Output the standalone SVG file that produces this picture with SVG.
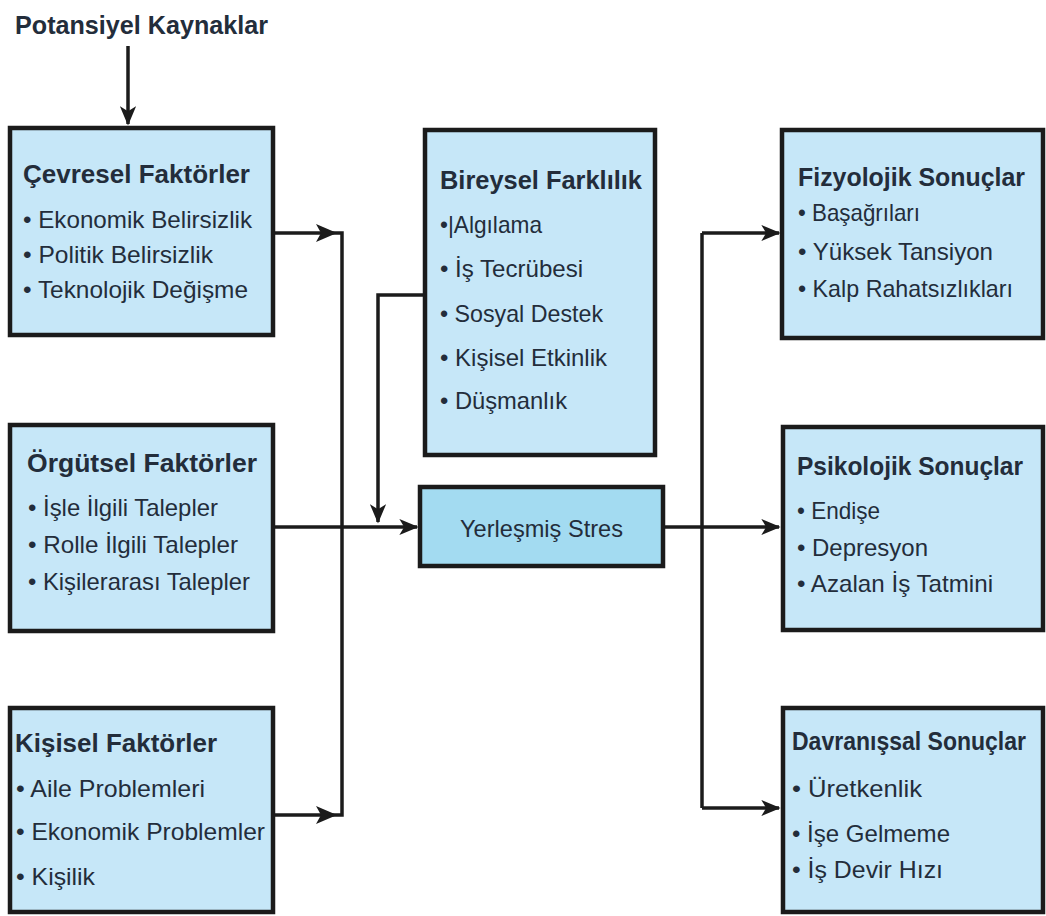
<svg xmlns="http://www.w3.org/2000/svg" width="1046" height="916" viewBox="0 0 1046 916">
  <style>
    .box { fill: #c6e7f8; stroke: #1b1b1b; stroke-width: 4.5; }
    .core { fill: #a3dbf1; stroke: #1b1b1b; stroke-width: 4.5; }
    .ttl { font-family: "Liberation Sans", Arial, sans-serif; font-weight: bold; font-size: 26px; fill: #232d3b; }
    .itm { font-family: "Liberation Sans", Arial, sans-serif; font-size: 24px; fill: #232d3b; }
    .head { font-family: "Liberation Sans", Arial, sans-serif; font-weight: bold; font-size: 26px; fill: #232d3b; }
    .wire { fill: none; stroke: #1b1b1b; stroke-width: 3.5; }
    .tip { fill: #1b1b1b; }
  </style>
  <defs>
    <marker id="arrow" viewBox="0 0 12 10" refX="11" refY="5" markerWidth="5.5" markerHeight="4.6" orient="auto" markerUnits="strokeWidth">
      <path d="M0,0 L12,5 L0,10 L3,5 Z" fill="#1b1b1b"/>
    </marker>
  </defs>

  <rect width="1046" height="916" fill="#ffffff"/>

  <text class="head" x="15" y="34" textLength="253" lengthAdjust="spacingAndGlyphs">Potansiyel Kaynaklar</text>

  <!-- connectors -->
  <g id="connectors">
    <path class="wire" d="M128,46 V124" marker-end="url(#arrow)"/>
    <!-- collector for environmental and personal factors -->
    <path class="wire" d="M273,233 H342 V815 H273"/>
    <path class="tip" d="M316,224 L337,233 L316,242 L321,233 Z"/>
    <path class="tip" d="M316,806 L337,815 L316,824 L321,815 Z"/>
    <!-- organisational factors into stress -->
    <path class="wire" d="M273,527 H417" marker-end="url(#arrow)"/>
    <!-- individual differences moderating -->
    <path class="wire" d="M425,295 H378 V522" marker-end="url(#arrow)"/>
    <!-- stress to outcomes -->
    <path class="wire" d="M663,527 H779" marker-end="url(#arrow)"/>
    <path class="wire" d="M702,233 V808"/>
    <path class="wire" d="M702,233 H779" marker-end="url(#arrow)"/>
    <path class="wire" d="M702,808 H779" marker-end="url(#arrow)"/>
  </g>

  <g id="cevresel">
    <rect class="box" x="10" y="128" width="263" height="207"/>
    <text class="ttl" x="23" y="183" textLength="227" lengthAdjust="spacingAndGlyphs">Çevresel Faktörler</text>
    <text class="itm" x="23" y="228" textLength="229" lengthAdjust="spacingAndGlyphs">• Ekonomik Belirsizlik</text>
    <text class="itm" x="23" y="263" textLength="190" lengthAdjust="spacingAndGlyphs">• Politik Belirsizlik</text>
    <text class="itm" x="23" y="298" textLength="225" lengthAdjust="spacingAndGlyphs">• Teknolojik Değişme</text>
  </g>

  <g id="orgutsel">
    <rect class="box" x="10" y="425" width="263" height="206"/>
    <text class="ttl" x="27" y="472" textLength="230" lengthAdjust="spacingAndGlyphs">Örgütsel Faktörler</text>
    <text class="itm" x="28" y="516" textLength="190" lengthAdjust="spacingAndGlyphs">• İşle İlgili Talepler</text>
    <text class="itm" x="28" y="553" textLength="210" lengthAdjust="spacingAndGlyphs">• Rolle İlgili Talepler</text>
    <text class="itm" x="28" y="590" textLength="222" lengthAdjust="spacingAndGlyphs">• Kişilerarası Talepler</text>
  </g>

  <g id="kisisel">
    <rect class="box" x="10" y="708" width="263" height="204"/>
    <text class="ttl" x="15" y="752" textLength="202" lengthAdjust="spacingAndGlyphs">Kişisel Faktörler</text>
    <text class="itm" x="16" y="797" textLength="189" lengthAdjust="spacingAndGlyphs">• Aile Problemleri</text>
    <text class="itm" x="16" y="840" textLength="249" lengthAdjust="spacingAndGlyphs">• Ekonomik Problemler</text>
    <text class="itm" x="16" y="885" textLength="79" lengthAdjust="spacingAndGlyphs">• Kişilik</text>
  </g>

  <g id="bireysel">
    <rect class="box" x="425" y="130" width="230" height="325"/>
    <text class="ttl" x="440" y="189" textLength="202" lengthAdjust="spacingAndGlyphs">Bireysel Farklılık</text>
    <text class="itm" x="440" y="233" textLength="102" lengthAdjust="spacingAndGlyphs">•|Algılama</text>
    <text class="itm" x="440" y="277" textLength="143" lengthAdjust="spacingAndGlyphs">• İş Tecrübesi</text>
    <text class="itm" x="440" y="322" textLength="163" lengthAdjust="spacingAndGlyphs">• Sosyal Destek</text>
    <text class="itm" x="440" y="366" textLength="167" lengthAdjust="spacingAndGlyphs">• Kişisel Etkinlik</text>
    <text class="itm" x="440" y="409" textLength="127" lengthAdjust="spacingAndGlyphs">• Düşmanlık</text>
  </g>

  <g id="yerlesmis">
    <rect class="core" x="420" y="487" width="243" height="79"/>
    <text class="itm" x="460" y="537" font-size="27" textLength="163" lengthAdjust="spacingAndGlyphs">Yerleşmiş Stres</text>
  </g>

  <g id="fizyolojik">
    <rect class="box" x="782" y="130" width="261" height="208"/>
    <text class="ttl" x="798" y="186" textLength="227" lengthAdjust="spacingAndGlyphs">Fizyolojik Sonuçlar</text>
    <text class="itm" x="798" y="221" textLength="122" lengthAdjust="spacingAndGlyphs">• Başağrıları</text>
    <text class="itm" x="798" y="260" textLength="195" lengthAdjust="spacingAndGlyphs">• Yüksek Tansiyon</text>
    <text class="itm" x="798" y="297" textLength="215" lengthAdjust="spacingAndGlyphs">• Kalp Rahatsızlıkları</text>
  </g>

  <g id="psikolojik">
    <rect class="box" x="783" y="427" width="260" height="203"/>
    <text class="ttl" x="797" y="475" textLength="226" lengthAdjust="spacingAndGlyphs">Psikolojik Sonuçlar</text>
    <text class="itm" x="797" y="519" textLength="83" lengthAdjust="spacingAndGlyphs">• Endişe</text>
    <text class="itm" x="797" y="556" textLength="131" lengthAdjust="spacingAndGlyphs">• Depresyon</text>
    <text class="itm" x="797" y="592" textLength="196" lengthAdjust="spacingAndGlyphs">• Azalan İş Tatmini</text>
  </g>

  <g id="davranissal">
    <rect class="box" x="783" y="708" width="260" height="204"/>
    <text class="ttl" x="792" y="750" font-size="22" textLength="234" lengthAdjust="spacingAndGlyphs">Davranışsal Sonuçlar</text>
    <text class="itm" x="792" y="797" textLength="130" lengthAdjust="spacingAndGlyphs">• Üretkenlik</text>
    <text class="itm" x="792" y="842" textLength="158" lengthAdjust="spacingAndGlyphs">• İşe Gelmeme</text>
    <text class="itm" x="792" y="878" textLength="151" lengthAdjust="spacingAndGlyphs">• İş Devir Hızı</text>
  </g>
</svg>
